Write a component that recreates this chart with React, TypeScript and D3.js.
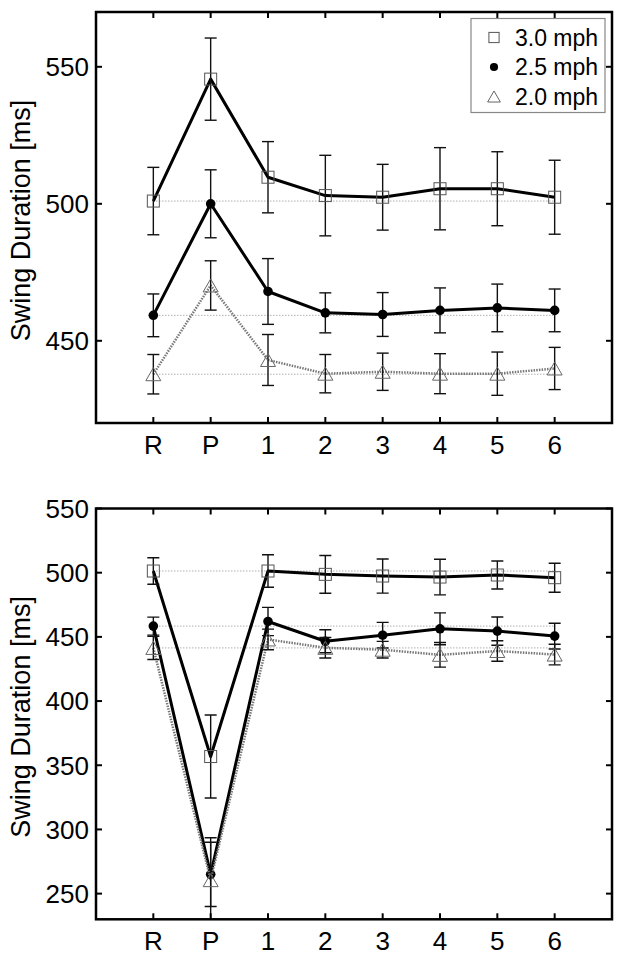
import React from "react";
import * as d3 from "d3";

const categories = ["R", "P", "1", "2", "3", "4", "5", "6"];
const seriesNames = ["3.0 mph", "2.5 mph", "2.0 mph"];

// Top panel
const top30 = [501, 545.5, 509.7, 503, 502.4, 505.5, 505.5, 502.4];
const top30Err = [12.3, 15, 13, 14.7, 12, 15, 13.5, 13.5];
const top25 = [459.3, 500, 468, 460.2, 459.6, 461.1, 462, 461.1];
const top25Err = [7.8, 12.4, 12, 7.3, 8, 8.2, 8.7, 7.8];
const top20 = [437.8, 470.2, 443, 438, 438.7, 438, 438, 439.9];
const top20Err = [7.2, 9, 9.3, 7, 6.8, 7.3, 7.9, 7.7];
const topTicks = [450, 500, 550];
const topDomain = [420, 570];

// Bottom panel
const bot30 = [501.3, 356.8, 501.3, 498.7, 497.4, 496.6, 498.2, 496.1];
const bot30Err = [10.3, 32.3, 12.7, 14.7, 13.3, 13.9, 10.9, 11.3];
const bot25 = [458.4, 265, 462, 446.6, 451.3, 456.3, 454.5, 450.6];
const bot25Err = [7, 25, 11, 9, 10, 12.4, 11, 10];
const bot20 = [441.4, 260.5, 448, 441.5, 440, 436, 439, 436.2];
const bot20Err = [9, 33, 8, 8, 6.5, 9.6, 8, 8];
const botTicks = [250, 300, 350, 400, 450, 500, 550];
const botDomain = [230, 550];

const FONT = "'Liberation Sans', Arial, Helvetica, sans-serif";

type Series = { vals: number[]; errs: number[]; kind: "square" | "circle" | "triangle" };

function Marker({ kind, x, y, s = 1 }: { kind: string; x: number; y: number; s?: number }) {
  if (kind === "square") {
    const h = 6 * s;
    return <rect x={x - h} y={y - h} width={2 * h} height={2 * h} fill="none" stroke="#555" strokeWidth={1} />;
  }
  if (kind === "circle") {
    return <circle cx={x} cy={y} r={4.8 * s} fill="#000" />;
  }
  const w = 7.5 * s;
  const h = 6.5 * s;
  return (
    <path
      d={`M${x - w},${y + h}L${x},${y - h}L${x + w},${y + h}Z`}
      fill="none"
      stroke="#666"
      strokeWidth={1}
    />
  );
}

function Panel({
  top,
  bottom,
  domain,
  ticks,
  series,
  legend,
}: {
  top: number;
  bottom: number;
  domain: number[];
  ticks: number[];
  series: Series[];
  legend: boolean;
}) {
  const left = 96;
  const right = 612;
  const x = d3.scaleLinear().domain([0, categories.length + 1]).range([left, right]);
  const y = d3.scaleLinear().domain(domain).range([bottom, top]);
  const tl = 6;
  const idx = categories.map((_, i) => i);
  const cx = (i: number) => x(i + 1);
  const lineGen = d3
    .line<number>()
    .x((_, i) => cx(i))
    .y((v) => y(v));
  const clipId = `clip${top}`;
  const lineStyles = [
    { stroke: "#000", width: 3, dash: undefined as string | undefined },
    { stroke: "#000", width: 3, dash: undefined as string | undefined },
    { stroke: "#777", width: 2.5, dash: "1.5,1.2" },
  ];
  return (
    <g>
      <defs>
        <clipPath id={clipId}>
          <rect x={left} y={top} width={right - left} height={bottom - top} />
        </clipPath>
      </defs>
      <g clipPath={`url(#${clipId})`}>
        {series.map((s, k) => (
          <line
            key={"ref" + k}
            x1={cx(0)}
            x2={cx(categories.length - 1)}
            y1={y(s.vals[0])}
            y2={y(s.vals[0])}
            stroke="#888"
            strokeWidth={1}
            strokeDasharray="1,2"
          />
        ))}
        {series.map((s, k) => (
          <g key={"s" + k}>
            <path
              d={lineGen(s.vals) || ""}
              fill="none"
              stroke={lineStyles[k].stroke}
              strokeWidth={lineStyles[k].width}
              strokeDasharray={lineStyles[k].dash}
              strokeLinejoin="round"
            />
            {idx.map((i) => {
              const yt = y(s.vals[i] + s.errs[i]);
              const yb = y(s.vals[i] - s.errs[i]);
              const px = cx(i);
              return (
                <g key={i} stroke="#111" strokeWidth={1.4}>
                  <line x1={px} x2={px} y1={yt} y2={yb} />
                  <line x1={px - 6} x2={px + 6} y1={yt} y2={yt} />
                  <line x1={px - 6} x2={px + 6} y1={yb} y2={yb} />
                </g>
              );
            })}
            {idx.map((i) => (
              <Marker key={"m" + i} kind={s.kind} x={cx(i)} y={y(s.vals[i])} />
            ))}
          </g>
        ))}
      </g>
      {/* box */}
      <rect x={left} y={top} width={right - left} height={bottom - top} fill="none" stroke="#000" strokeWidth={2.5} />
      {/* x ticks */}
      {idx.map((i) => (
        <g key={"xt" + i} stroke="#000" strokeWidth={2}>
          <line x1={cx(i)} x2={cx(i)} y1={bottom} y2={bottom - tl} />
          <line x1={cx(i)} x2={cx(i)} y1={top} y2={top + tl} />
        </g>
      ))}
      {categories.map((c, i) => (
        <text
          key={"xl" + i}
          x={cx(i)}
          y={bottom + 30.5}
          textAnchor="middle"
          fontFamily={FONT}
          fontSize={26}
          fill="#000"
        >
          {c}
        </text>
      ))}
      {ticks.map((t) => (
        <g key={"yt" + t}>
          <line x1={left} x2={left + tl} y1={y(t)} y2={y(t)} stroke="#000" strokeWidth={2} />
          <line x1={right} x2={right - tl} y1={y(t)} y2={y(t)} stroke="#000" strokeWidth={2} />
          <text x={89} y={y(t) + 9.3} textAnchor="end" fontFamily={FONT} fontSize={26} fill="#000">
            {t}
          </text>
        </g>
      ))}
      <text
        transform={`translate(30,${(top + bottom) / 2 + 3}) rotate(-90)`}
        textAnchor="middle"
        fontFamily={FONT}
        fontSize={27}
        fill="#000"
      >
        Swing Duration [ms]
      </text>
      {legend && (
        <g>
          <rect x={471} y={18.5} width={134} height={94} fill="#fff" stroke="#888" strokeWidth={1.2} />
          {seriesNames.map((n, k) => {
            const ry = 37.5 + k * 29.5;
            return (
              <g key={n}>
                <Marker kind={series[k].kind} x={494} y={ry} s={0.85} />
                <text x={515} y={ry + 8} fontFamily={FONT} fontSize={23} fill="#000">
                  {n}
                </text>
              </g>
            );
          })}
        </g>
      )}
    </g>
  );
}

export default function App() {
  const topSeries: Series[] = [
    { vals: top30, errs: top30Err, kind: "square" },
    { vals: top25, errs: top25Err, kind: "circle" },
    { vals: top20, errs: top20Err, kind: "triangle" },
  ];
  const botSeries: Series[] = [
    { vals: bot30, errs: bot30Err, kind: "square" },
    { vals: bot25, errs: bot25Err, kind: "circle" },
    { vals: bot20, errs: bot20Err, kind: "triangle" },
  ];
  return (
    <svg
      width={624}
      height={962}
      style={{ position: "absolute", left: 0, top: 0, background: "#fff" }}
    >
      <rect width={624} height={962} fill="#fff" />
      <Panel top={12} bottom={423} domain={topDomain} ticks={topTicks} series={topSeries} legend={true} />
      <Panel top={508.5} bottom={919.3} domain={botDomain} ticks={botTicks} series={botSeries} legend={false} />
    </svg>
  );
}
